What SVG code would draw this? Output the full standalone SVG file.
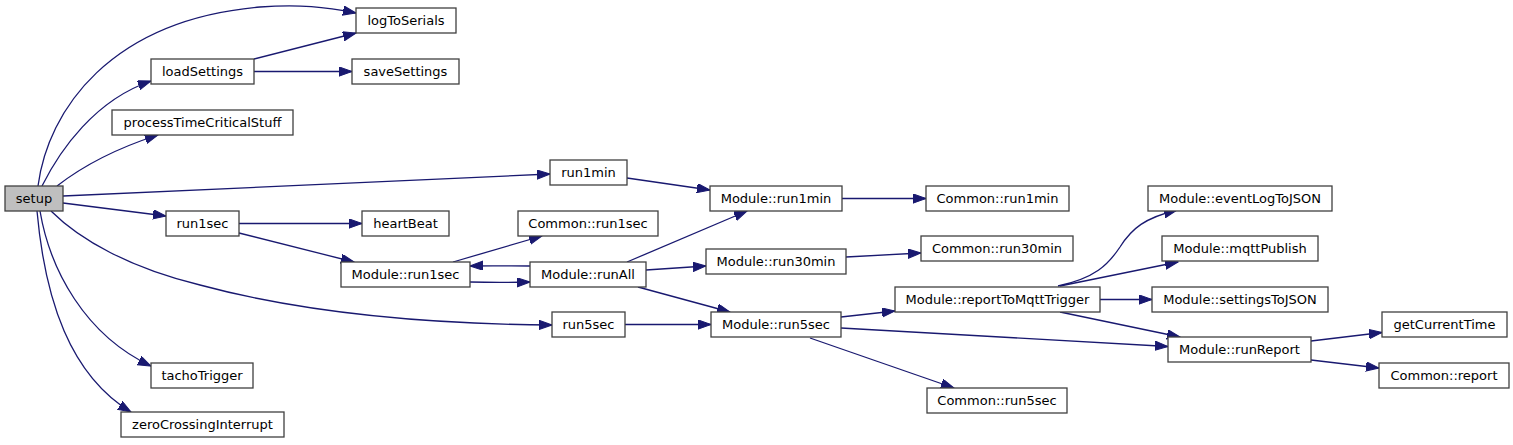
<svg xmlns="http://www.w3.org/2000/svg" width="1513" height="445" viewBox="0 0 1513 445">
<style>
.n rect{fill:#ffffff;stroke:#404040;stroke-width:1.3}
.n text{font-family:"DejaVu Sans",Verdana,sans-serif;font-size:13px;fill:#000;text-anchor:middle}
#setup rect{fill:#bfbfbf}
.e path{fill:none;stroke:#191970;stroke-width:1.3;marker-end:url(#ah)}
</style>
<defs>
<marker id="ah" markerUnits="userSpaceOnUse" markerWidth="14" markerHeight="10" refX="13" refY="4.65" orient="auto">
<path d="M0,0 L13,4.65 L0,9.3 z" fill="#191970" stroke="#191970" stroke-width="1"/>
</marker>
</defs>
<rect width="1513" height="445" fill="#ffffff"/>
<g id="edges" class="e">
<path d="M38,186 C48,110 110,20 260,7 C300,4 325,7 356,13"/>
<path d="M42,186 C60,150 95,100 151,81"/>
<path d="M57,186 C75,172 105,152 158,135"/>
<path d="M63,196 L550,174"/>
<path d="M63,203 L166,216"/>
<path d="M51,211 C80,240 130,268 200,285 C300,312 420,324 552,325"/>
<path d="M40,211 C50,270 85,335 151,366"/>
<path d="M37,211 C45,300 70,375 131,412"/>
<path d="M254,59 L356,33"/>
<path d="M254,71.5 L352,71.5"/>
<path d="M239,223.5 L362,223.5"/>
<path d="M239,233 L354,262"/>
<path d="M453,262 L542,236"/>
<path d="M530,266 C510,266 495,265.5 470,266"/>
<path d="M470,282 C490,282.5 510,282.5 530,282"/>
<path d="M627,262 L747,211"/>
<path d="M646,270 L706,266"/>
<path d="M638,287 L730,312"/>
<path d="M627,178 L710,190"/>
<path d="M842,198.5 L926,198.5"/>
<path d="M846,257 L921,253"/>
<path d="M625,324.5 L711,324.5"/>
<path d="M841,317 L895,311"/>
<path d="M841,328 L1168,346.5"/>
<path d="M810,338 L954,388"/>
<path d="M1058,286 C1095,278 1108,265 1120,247 C1132,228 1145,218 1177,210"/>
<path d="M1060,286 L1178,262"/>
<path d="M1100,299.5 L1152,299.5"/>
<path d="M1060,312 L1180,337"/>
<path d="M1311,341 L1382,332.5"/>
<path d="M1311,360 L1379,368"/>
</g>
<g id="setup" class="n"><rect x="5" y="186" width="58" height="25"/><text x="34" y="203">setup</text></g>
<g id="logToSerials" class="n"><rect x="356" y="8" width="100" height="25"/><text x="406" y="25">logToSerials</text></g>
<g id="loadSettings" class="n"><rect x="151" y="59" width="103" height="25"/><text x="202.5" y="76">loadSettings</text></g>
<g id="saveSettings" class="n"><rect x="352" y="59" width="107" height="25"/><text x="405.5" y="76">saveSettings</text></g>
<g id="processTimeCriticalStuff" class="n"><rect x="112" y="110" width="181" height="25"/><text x="202.5" y="127">processTimeCriticalStuff</text></g>
<g id="run1min" class="n"><rect x="550" y="160" width="77" height="25"/><text x="588.5" y="177">run1min</text></g>
<g id="run1sec" class="n"><rect x="166" y="211" width="73" height="25"/><text x="202.5" y="228">run1sec</text></g>
<g id="heartBeat" class="n"><rect x="362" y="211" width="87" height="25"/><text x="405.5" y="228">heartBeat</text></g>
<g id="Common_run1sec" class="n"><rect x="518" y="211" width="140" height="25"/><text x="588" y="228">Common::run1sec</text></g>
<g id="Module_run1sec" class="n"><rect x="341" y="262" width="129" height="25"/><text x="405.5" y="279">Module::run1sec</text></g>
<g id="Module_runAll" class="n"><rect x="530" y="262" width="116" height="25"/><text x="588" y="279">Module::runAll</text></g>
<g id="run5sec" class="n"><rect x="552" y="312" width="73" height="25"/><text x="588.5" y="329">run5sec</text></g>
<g id="tachoTrigger" class="n"><rect x="151" y="363" width="102" height="25"/><text x="202" y="380">tachoTrigger</text></g>
<g id="zeroCrossingInterrupt" class="n"><rect x="121" y="412" width="163" height="25"/><text x="202.5" y="429">zeroCrossingInterrupt</text></g>
<g id="Module_run1min" class="n"><rect x="710" y="186" width="132" height="25"/><text x="776" y="203">Module::run1min</text></g>
<g id="Module_run30min" class="n"><rect x="706" y="249" width="140" height="25"/><text x="776" y="266">Module::run30min</text></g>
<g id="Module_run5sec" class="n"><rect x="711" y="312" width="130" height="25"/><text x="776" y="329">Module::run5sec</text></g>
<g id="Common_run1min" class="n"><rect x="926" y="186" width="143" height="25"/><text x="997.5" y="203">Common::run1min</text></g>
<g id="Common_run30min" class="n"><rect x="921" y="236" width="152" height="25"/><text x="997" y="253">Common::run30min</text></g>
<g id="Module_reportToMqttTrigger" class="n"><rect x="895" y="287" width="205" height="25"/><text x="997.5" y="304">Module::reportToMqttTrigger</text></g>
<g id="Common_run5sec" class="n"><rect x="927" y="388" width="140" height="25"/><text x="997" y="405">Common::run5sec</text></g>
<g id="Module_eventLogToJSON" class="n"><rect x="1148" y="186" width="184" height="25"/><text x="1240" y="203">Module::eventLogToJSON</text></g>
<g id="Module_mqttPublish" class="n"><rect x="1162" y="236" width="156" height="25"/><text x="1240" y="253">Module::mqttPublish</text></g>
<g id="Module_settingsToJSON" class="n"><rect x="1152" y="287" width="176" height="25"/><text x="1240" y="304">Module::settingsToJSON</text></g>
<g id="Module_runReport" class="n"><rect x="1168" y="337" width="143" height="25"/><text x="1239.5" y="354">Module::runReport</text></g>
<g id="getCurrentTime" class="n"><rect x="1382" y="312" width="125" height="25"/><text x="1444.5" y="329">getCurrentTime</text></g>
<g id="Common_report" class="n"><rect x="1379" y="363" width="130" height="25"/><text x="1444" y="380">Common::report</text></g>
</svg>
